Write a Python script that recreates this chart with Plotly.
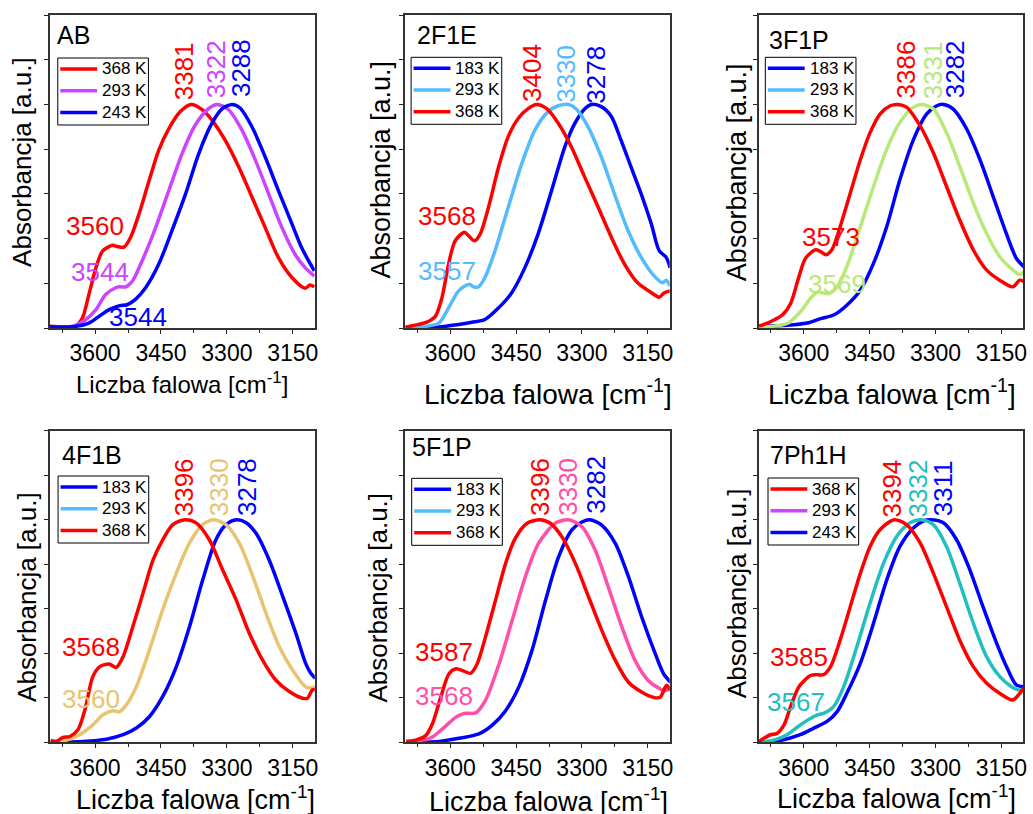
import plotly.graph_objects as go

W, H = 1033, 814

# ---------------- spectra (wavenumber in cm-1, normalised absorbance) ----------------
# AB
ab_368_wn = [3704, 3644, 3629, 3614, 3598, 3583, 3560, 3549, 3534, 3519, 3500, 3477, 3455, 3432, 3406, 3381,
             3357, 3334, 3304, 3273, 3243, 3213, 3183, 3152, 3122, 3111, 3101]
ab_368_abs = [0.04, 0.05, 0.22, 0.75, 1.35, 1.72, 1.85, 1.82, 1.81, 2.03, 2.55, 3.30, 3.98, 4.46, 4.84, 5.00,
              4.89, 4.65, 4.20, 3.60, 2.93, 2.25, 1.58, 1.13, 0.89, 0.96, 0.92]
ab_293_wn = [3704, 3650, 3621, 3598, 3576, 3553, 3544, 3530, 3515, 3493, 3462, 3432, 3402, 3372, 3341, 3322,
             3296, 3266, 3235, 3205, 3175, 3145, 3122, 3101]
ab_293_abs = [0.03, 0.04, 0.19, 0.41, 0.75, 0.90, 0.92, 0.92, 1.05, 1.50, 2.25, 3.08, 3.90, 4.54, 4.91, 5.00,
              4.88, 4.43, 3.75, 3.00, 2.25, 1.65, 1.35, 1.16]
ab_243_wn = [3704, 3650, 3614, 3591, 3568, 3544, 3527, 3508, 3485, 3455, 3425, 3394, 3364, 3334, 3311, 3288,
             3270, 3243, 3213, 3183, 3152, 3130, 3114, 3101]
ab_243_abs = [0.03, 0.03, 0.11, 0.26, 0.41, 0.50, 0.52, 0.64, 0.90, 1.43, 2.18, 3.00, 3.90, 4.58, 4.90, 5.00,
              4.92, 4.50, 3.83, 3.08, 2.33, 1.80, 1.50, 1.28]

# 2F1E
f2_368_wn = [3702, 3672, 3649, 3634, 3619, 3604, 3589, 3568, 3558, 3545, 3532, 3513, 3490, 3468, 3445, 3422,
             3404, 3381, 3354, 3324, 3294, 3263, 3233, 3203, 3173, 3142, 3124, 3112, 3099]
f2_368_abs = [0.02, 0.08, 0.15, 0.26, 0.68, 1.43, 1.95, 2.14, 2.06, 1.95, 2.10, 2.70, 3.60, 4.28, 4.69, 4.91,
              5.00, 4.91, 4.58, 4.05, 3.38, 2.70, 2.03, 1.43, 1.01, 0.79, 0.69, 0.79, 0.83]
f2_293_wn = [3702, 3657, 3626, 3604, 3581, 3557, 3547, 3536, 3521, 3498, 3468, 3437, 3407, 3377, 3354, 3330,
             3313, 3286, 3256, 3226, 3195, 3165, 3135, 3116, 3108, 3099]
f2_293_abs = [0.02, 0.04, 0.11, 0.45, 0.83, 0.98, 0.92, 0.92, 1.13, 1.73, 2.70, 3.68, 4.43, 4.84, 4.97, 5.00,
              4.90, 4.50, 3.83, 3.00, 2.18, 1.58, 1.16, 1.01, 1.07, 0.94]
f2_183_wn = [3702, 3626, 3581, 3551, 3521, 3490, 3460, 3430, 3400, 3369, 3339, 3316, 3294, 3278, 3256, 3233,
             3211, 3188, 3165, 3142, 3124, 3108, 3099]
f2_183_abs = [0.00, 0.02, 0.08, 0.13, 0.19, 0.45, 0.79, 1.35, 2.10, 3.08, 4.05, 4.58, 4.90, 5.00, 4.95, 4.73,
              4.20, 3.60, 3.00, 2.33, 1.73, 1.58, 1.35]

# 3F1P
f3_368_wn = [3702, 3676, 3649, 3630, 3611, 3596, 3573, 3562, 3549, 3536, 3517, 3494, 3471, 3449, 3426, 3403,
             3386, 3366, 3335, 3305, 3275, 3245, 3214, 3184, 3154, 3124, 3108, 3099]
f3_368_abs = [0.04, 0.14, 0.29, 0.55, 1.15, 1.56, 1.75, 1.71, 1.64, 1.75, 2.27, 3.02, 3.77, 4.37, 4.79, 4.97,
              5.00, 4.94, 4.52, 3.92, 3.17, 2.42, 1.75, 1.30, 1.07, 0.92, 1.07, 1.04]
f3_293_wn = [3702, 3638, 3608, 3585, 3569, 3543, 3524, 3502, 3471, 3441, 3411, 3381, 3350, 3331, 3305, 3275,
             3245, 3214, 3184, 3154, 3124, 3108, 3099]
f3_293_abs = [0.02, 0.10, 0.36, 0.66, 0.80, 0.77, 0.92, 1.37, 2.27, 3.17, 4.00, 4.60, 4.94, 5.00, 4.90, 4.37,
              3.62, 2.80, 2.12, 1.60, 1.30, 1.19, 1.26]
f3_183_wn = [3702, 3638, 3592, 3562, 3532, 3502, 3471, 3441, 3411, 3381, 3350, 3320, 3297, 3282, 3260, 3229,
             3199, 3169, 3139, 3116, 3099]
f3_183_abs = [0.04, 0.06, 0.11, 0.21, 0.29, 0.51, 0.85, 1.45, 2.27, 3.32, 4.22, 4.79, 4.97, 5.00, 4.90, 4.45,
              3.77, 2.95, 2.12, 1.56, 1.37]

# 4F1B
f4_368_wn = [3701, 3688, 3673, 3657, 3639, 3623, 3605, 3589, 3568, 3552, 3536, 3514, 3491, 3468, 3446, 3423,
             3396, 3370, 3340, 3310, 3279, 3249, 3219, 3189, 3158, 3128, 3117, 3105, 3099]
f4_368_abs = [0.04, 0.02, 0.11, 0.13, 0.28, 0.73, 1.48, 1.70, 1.76, 1.68, 1.93, 2.60, 3.35, 4.10, 4.55, 4.89,
              5.00, 4.93, 4.55, 3.88, 3.20, 2.45, 1.85, 1.40, 1.14, 0.99, 0.99, 1.18, 1.18]
f4_293_wn = [3701, 3665, 3635, 3605, 3582, 3560, 3544, 3529, 3506, 3476, 3446, 3415, 3385, 3355, 3330, 3302,
             3272, 3241, 3211, 3181, 3151, 3121, 3109, 3099]
f4_293_abs = [0.02, 0.05, 0.17, 0.39, 0.62, 0.71, 0.69, 0.84, 1.25, 2.08, 2.98, 3.80, 4.48, 4.89, 5.00, 4.89,
              4.48, 3.73, 2.90, 2.15, 1.63, 1.25, 1.22, 1.25]
f4_183_wn = [3701, 3627, 3574, 3536, 3506, 3476, 3446, 3415, 3385, 3355, 3325, 3302, 3278, 3257, 3234, 3204,
             3173, 3143, 3121, 3109, 3099]
f4_183_abs = [0.00, 0.02, 0.07, 0.17, 0.32, 0.58, 1.03, 1.70, 2.60, 3.65, 4.55, 4.89, 5.00, 4.94, 4.70, 4.10,
              3.28, 2.45, 1.78, 1.55, 1.44]

# 5F1P
f5_368_wn = [3701, 3679, 3656, 3641, 3622, 3603, 3587, 3569, 3554, 3539, 3520, 3497, 3474, 3452, 3425, 3396,
             3372, 3346, 3315, 3285, 3255, 3224, 3194, 3164, 3137, 3122, 3107, 3098]
f5_368_abs = [0.02, 0.05, 0.15, 0.41, 1.01, 1.54, 1.65, 1.60, 1.55, 1.76, 2.36, 3.19, 4.02, 4.58, 4.92, 5.00,
              4.92, 4.62, 4.02, 3.27, 2.52, 1.84, 1.35, 1.13, 1.01, 1.01, 1.28, 1.16]
f5_293_wn = [3701, 3648, 3618, 3588, 3568, 3542, 3520, 3489, 3459, 3429, 3399, 3361, 3330, 3300, 3270, 3240,
             3209, 3179, 3149, 3122, 3111, 3098]
f5_293_abs = [0.02, 0.08, 0.30, 0.56, 0.65, 0.66, 0.94, 1.76, 2.74, 3.72, 4.47, 4.92, 5.00, 4.84, 4.32, 3.49,
              2.59, 1.84, 1.39, 1.20, 1.16, 1.24]
f5_183_wn = [3701, 3626, 3580, 3535, 3505, 3474, 3444, 3414, 3383, 3353, 3323, 3300, 3282, 3255, 3224, 3194,
             3164, 3133, 3114, 3098]
f5_183_abs = [0.00, 0.02, 0.09, 0.19, 0.38, 0.71, 1.24, 2.06, 3.19, 4.17, 4.77, 4.95, 5.00, 4.88, 4.47, 3.72,
              2.82, 1.99, 1.54, 1.35]

# 7Ph1H
p7_368_wn = [3704, 3691, 3676, 3661, 3645, 3630, 3611, 3585, 3574, 3555, 3539, 3517, 3494, 3471, 3449, 3426,
             3394, 3366, 3335, 3305, 3275, 3245, 3214, 3184, 3154, 3124, 3108, 3099]
p7_368_abs = [0.00, 0.09, 0.17, 0.20, 0.39, 0.80, 1.25, 1.50, 1.52, 1.52, 1.70, 2.30, 3.05, 3.80, 4.40, 4.78,
              5.00, 4.89, 4.48, 3.80, 3.05, 2.30, 1.70, 1.33, 1.10, 0.95, 1.10, 1.22]
p7_293_wn = [3704, 3668, 3638, 3608, 3577, 3567, 3555, 3532, 3509, 3479, 3449, 3418, 3388, 3358, 3332, 3305,
             3275, 3245, 3214, 3184, 3154, 3127, 3112, 3099]
p7_293_abs = [0.00, 0.05, 0.17, 0.39, 0.58, 0.62, 0.65, 0.80, 1.25, 2.15, 3.13, 4.03, 4.63, 4.93, 5.00, 4.89,
              4.40, 3.58, 2.68, 1.93, 1.48, 1.25, 1.18, 1.18]
p7_243_wn = [3704, 3653, 3608, 3577, 3547, 3524, 3502, 3471, 3441, 3411, 3381, 3350, 3328, 3311, 3282, 3252,
             3222, 3192, 3161, 3135, 3116, 3099]
p7_243_abs = [0.00, 0.04, 0.17, 0.32, 0.47, 0.69, 1.10, 1.78, 2.68, 3.65, 4.40, 4.82, 4.97, 5.00, 4.93, 4.55,
              3.88, 3.05, 2.23, 1.63, 1.29, 1.25]

# shoulder band positions (cm-1)
ab_shoulders = [3560, 3544, 3544]
f2_shoulders = [3568, 3557]
f3_shoulders = [3573, 3569]
f4_shoulders = [3568, 3560]
f5_shoulders = [3587, 3568]
p7_shoulders = [3585, 3567]

panel_names = ["AB", "2F1E", "3F1P", "4F1B", "5F1P", "7Ph1H"]
x_tick_vals = [3600, 3450, 3300, 3150]
x_minor_vals = [3675, 3525, 3375, 3225]

# ---------------- colours ----------------
RED = "#FF0000"
BLUE = "#0000FF"
PURPLE = "#CC44FF"
LIGHTBLUE = "#55BBFF"
GREEN = "#B8E878"
TAN = "#E8C470"
PINK = "#FF4FA8"
CYAN = "#22BFBF"

FONT = "Liberation Sans, Arial, sans-serif"

panels = [
    dict(curves=[(ab_368_wn, ab_368_abs, RED), (ab_293_wn, ab_293_abs, PURPLE), (ab_243_wn, ab_243_abs, BLUE)],
         legend=[("368 K", RED), ("293 K", PURPLE), ("243 K", BLUE)],
         shoulders=list(zip(ab_shoulders, [RED, PURPLE, BLUE]))),
    dict(curves=[(f2_183_wn, f2_183_abs, BLUE), (f2_293_wn, f2_293_abs, LIGHTBLUE), (f2_368_wn, f2_368_abs, RED)],
         legend=[("183 K", BLUE), ("293 K", LIGHTBLUE), ("368 K", RED)],
         shoulders=list(zip(f2_shoulders, [RED, LIGHTBLUE]))),
    dict(curves=[(f3_183_wn, f3_183_abs, BLUE), (f3_293_wn, f3_293_abs, GREEN), (f3_368_wn, f3_368_abs, RED)],
         legend=[("183 K", BLUE), ("293 K", LIGHTBLUE), ("368 K", RED)],
         shoulders=list(zip(f3_shoulders, [RED, GREEN]))),
    dict(curves=[(f4_183_wn, f4_183_abs, BLUE), (f4_293_wn, f4_293_abs, TAN), (f4_368_wn, f4_368_abs, RED)],
         legend=[("183 K", BLUE), ("293 K", LIGHTBLUE), ("368 K", RED)],
         shoulders=list(zip(f4_shoulders, [RED, TAN]))),
    dict(curves=[(f5_183_wn, f5_183_abs, BLUE), (f5_293_wn, f5_293_abs, PINK), (f5_368_wn, f5_368_abs, RED)],
         legend=[("183 K", BLUE), ("293 K", LIGHTBLUE), ("368 K", RED)],
         shoulders=list(zip(f5_shoulders, [RED, PINK]))),
    dict(curves=[(p7_243_wn, p7_243_abs, BLUE), (p7_293_wn, p7_293_abs, CYAN), (p7_368_wn, p7_368_abs, RED)],
         legend=[("368 K", RED), ("293 K", PURPLE), ("243 K", BLUE)],
         shoulders=list(zip(p7_shoulders, [RED, CYAN]))),
]

# ---------------- page geometry (pixels) ----------------
col_px = [(50, 316), (406.7, 672.3), (761.5, 1027.3)]
row_px = [(15, 328), (430.7, 742.3)]
label_px = [(57, 35.5), (419, 35), (772, 39.5), (62, 454.5), (414, 447), (773, 455)]
legend_px = [(58, 58), (412.7, 57.3), (768.3, 57.3), (58.3, 476), (413.3, 478.3), (771, 478)]
ytitle_px = [(22, 162, 26), (382, 170, 27), (740, 172, 27), (27, 597, 26), (379, 598, 26), (740, 593, 26)]
xtitle_px = [(183, 383, 24), (550, 392, 28), (895, 392, 28), (196, 798, 27), (551, 800, 27), (900, 797, 27)]
peak_px = [
    [(185, 71), (217, 69), (242, 68)],
    [(598, 75), (568, 74), (534, 73)],
    [(959, 69), (937, 70), (910, 69)],
    [(248, 487), (220, 487), (185, 487)],
    [(598, 485), (570, 487), (542, 487)],
    [(947, 488), (922, 488), (895, 489)],
]
shoulder_px = [
    [(95, 226), (100, 272), (139, 317)],
    [(449, 216), (449, 271)],
    [(834, 237), (840, 284)],
    [(91, 647), (91, 699)],
    [(446, 652), (446, 696)],
    [(802, 657), (799, 702)],
]
LEG_W, LEG_H, LEG_ROW, LEG_FIRST = 91, 67, 21.7, 11.0


def fx(px):
    return px / W


def fy(py):
    return 1 - py / H


fig = go.Figure()
layout = dict(
    width=W, height=H, margin=dict(l=0, r=0, t=0, b=0),
    paper_bgcolor="white", plot_bgcolor="white",
    font=dict(family=FONT, color="black"),
    showlegend=False,
)
annotations = []
shapes = []

for i, panel in enumerate(panels):
    n = i + 1
    sfx = "" if n == 1 else str(n)
    xa, ya = "x" + sfx, "y" + sfx
    c0, c1 = col_px[i % 3]
    r0, r1 = row_px[i // 3]

    for wn, ab, col in panel["curves"]:
        fig.add_trace(go.Scatter(
            x=wn, y=ab, mode="lines", xaxis=xa, yaxis=ya,
            line=dict(color=col, width=3.5, shape="spline", smoothing=0.8),
            hoverinfo="skip"))

    layout["xaxis" + sfx] = dict(
        domain=[fx(c0), fx(c1)], anchor=ya, range=[3703, 3100],
        tickmode="array", tickvals=x_tick_vals, ticktext=[str(v) for v in x_tick_vals],
        ticks="outside", ticklen=4, tickwidth=1, tickcolor="#222",
        minor=dict(tickmode="array", tickvals=x_minor_vals, ticks="outside", ticklen=3, tickcolor="#222"),
        tickfont=dict(size=23, family=FONT, color="black"),
        showline=True, linecolor="#333", linewidth=1.5, mirror=True,
        showgrid=False, zeroline=False)
    layout["yaxis" + sfx] = dict(
        domain=[fy(r1), fy(r0)], anchor=xa, range=[0, 7], dtick=1, tick0=0,
        ticks="outside", ticklen=4, tickwidth=1, tickcolor="#222", showticklabels=False,
        showline=True, linecolor="#333", linewidth=1.5, mirror=True,
        showgrid=False, zeroline=False)

    # legend box: frame, line samples and temperature labels
    lx, ly = legend_px[i]
    shapes.append(dict(type="rect", xref="paper", yref="paper",
                       x0=fx(lx), x1=fx(lx + LEG_W), y0=fy(ly + LEG_H), y1=fy(ly),
                       line=dict(color="black", width=1), fillcolor="white", layer="above"))
    for k, (name, col) in enumerate(panel["legend"]):
        row_y = ly + LEG_FIRST + k * LEG_ROW
        shapes.append(dict(type="line", xref="paper", yref="paper",
                           x0=fx(lx + 2.5), x1=fx(lx + 39.5), y0=fy(row_y), y1=fy(row_y),
                           line=dict(color=col, width=3.5), layer="above"))
        annotations.append(dict(text=name, x=fx(lx + 42.5), y=fy(row_y), xref="paper", yref="paper",
                                xanchor="left", yanchor="middle", showarrow=False,
                                font=dict(size=17, family=FONT, color="black")))

    # sample name
    tx, ty = label_px[i]
    annotations.append(dict(text=panel_names[i], x=fx(tx - 2), y=fy(ty), xref="paper", yref="paper",
                            xanchor="left", yanchor="middle", showarrow=False,
                            font=dict(size=25, family=FONT, color="black")))

    # axis titles
    yx, yy, ys = ytitle_px[i]
    annotations.append(dict(text="Absorbancja [a.u.]", x=fx(yx), y=fy(yy), xref="paper", yref="paper",
                            xanchor="center", yanchor="middle", textangle=-90, showarrow=False,
                            font=dict(size=ys, family=FONT, color="black")))
    xx, xy, xs = xtitle_px[i]
    annotations.append(dict(text="Liczba falowa [cm<sup>-1</sup>]", x=fx(xx), y=fy(xy),
                            xref="paper", yref="paper", xanchor="center", yanchor="middle",
                            showarrow=False, font=dict(size=xs, family=FONT, color="black")))

    # band maxima
    for (wn, ab, col), (px, py) in zip(panel["curves"], peak_px[i]):
        peak_wn = wn[ab.index(max(ab))]
        annotations.append(dict(text=str(peak_wn), x=fx(px), y=fy(py), xref="paper", yref="paper",
                                xanchor="center", yanchor="middle", textangle=-90, showarrow=False,
                                font=dict(size=26, family=FONT, color=col)))

    # shoulder bands
    for (val, col), (px, py) in zip(panel["shoulders"], shoulder_px[i]):
        annotations.append(dict(text=str(val), x=fx(px), y=fy(py), xref="paper", yref="paper",
                                xanchor="center", yanchor="middle", showarrow=False,
                                font=dict(size=26, family=FONT, color=col)))

layout["annotations"] = annotations
layout["shapes"] = shapes
fig.update_layout(**layout)
fig.write_html("out.html")
